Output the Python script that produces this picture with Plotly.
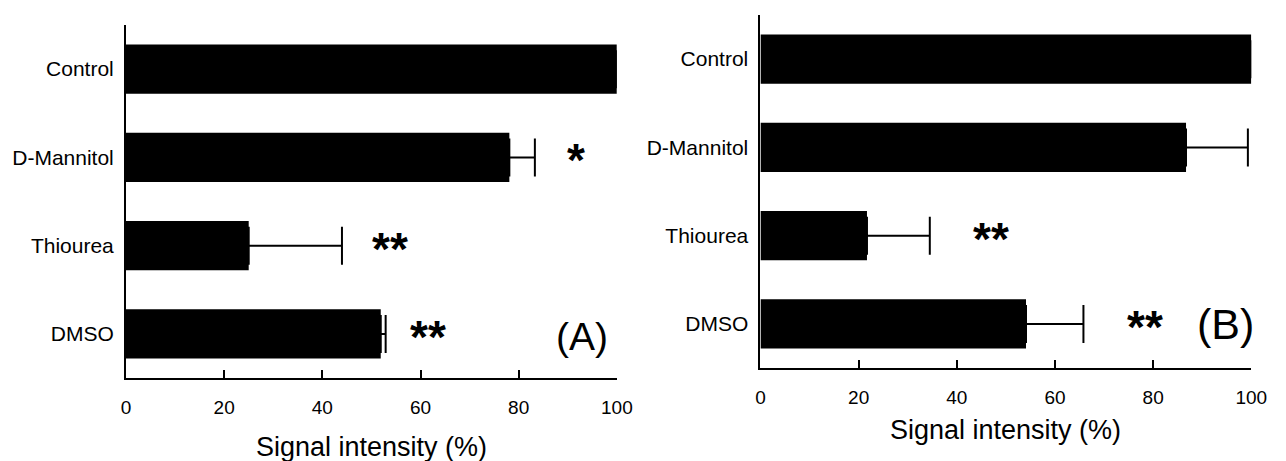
import plotly.graph_objects as go

categories = ["Control", "D-Mannitol", "Thiourea", "DMSO"]
values_a = [100, 78.1, 25.0, 51.9]
errors_a = [0, 5.2, 19.0, 1.0]
values_b = [100, 86.7, 21.7, 54.1]
errors_b = [0, 12.6, 12.8, 11.7]
stars_a = [("*", "D-Mannitol", 91.7), ("**", "Thiourea", 53.7), ("**", "DMSO", 61.5)]
stars_b = [("**", "Thiourea", 46.9), ("**", "DMSO", 78.3)]
x_ticks = [0, 20, 40, 60, 80, 100]
x_title = "Signal intensity (%)"

W, H = 1286, 461
FONT = "Liberation Sans, Arial, Helvetica, sans-serif"

fig = go.Figure()
for vals, errs, xa, ya in [(values_a, errors_a, "x", "y"), (values_b, errors_b, "x2", "y2")]:
    fig.add_trace(go.Bar(
        x=vals, y=categories, orientation="h", xaxis=xa, yaxis=ya,
        marker=dict(color="black", line=dict(width=0)),
        error_x=dict(type="data", array=errs, arrayminus=[0]*len(errs), symmetric=False,
                     color="black", thickness=2, width=19),
        showlegend=False, hoverinfo="skip",
    ))

def px_x(a, b):
    return [a / W, b / W]

def px_y(top, bottom):
    return [1 - bottom / H, 1 - top / H]

axis_common = dict(showline=True, linecolor="black", linewidth=2, showgrid=False, zeroline=False)
xcommon = dict(range=[0, 100], tickvals=x_ticks, ticks="inside", ticklen=8, tickwidth=2,
               tickcolor="black", tickfont=dict(size=19), ticklabelstandoff=11, **axis_common)
ycommon = dict(autorange="reversed", ticks="", tickfont=dict(size=21), ticklabelstandoff=6, **axis_common)
fig.update_layout(
    width=W, height=H, margin=dict(l=0, r=0, t=0, b=0),
    paper_bgcolor="white", plot_bgcolor="white",
    bargap=0.44,
    font=dict(family=FONT, color="black"),
    xaxis=dict(domain=px_x(123, 622), **xcommon),
    yaxis=dict(domain=px_y(25, 378), **ycommon),
    xaxis2=dict(domain=px_x(768, 1267), anchor="y2", **xcommon),
    yaxis2=dict(domain=px_y(15, 368), anchor="x2", **ycommon),
)

ann = []
for text, cat, xv in stars_a:
    ann.append(dict(x=xv, y=cat, xref="x", yref="y", text="<b>" + text + "</b>", showarrow=False,
                    font=dict(size=46), yshift=-3, xanchor="center"))
for text, cat, xv in stars_b:
    ann.append(dict(x=xv, y=cat, xref="x2", yref="y2", text="<b>" + text + "</b>", showarrow=False,
                    font=dict(size=46), yshift=-3, xanchor="center"))
ann.append(dict(x=93, y="DMSO", xref="x", yref="y", text="(A)", showarrow=False, font=dict(size=39),
                yshift=-3, xanchor="center"))
ann.append(dict(x=94.8, y="DMSO", xref="x2", yref="y2", text="(B)", showarrow=False, font=dict(size=43),
                yshift=0, xanchor="center"))
ann.append(dict(x=(123 + 622) / 2 / W, y=1 - 447 / H, xref="paper", yref="paper", text=x_title,
                showarrow=False, font=dict(size=27), xanchor="center", yanchor="middle"))
ann.append(dict(x=(768 + 1267) / 2 / W, y=1 - 430 / H, xref="paper", yref="paper", text=x_title,
                showarrow=False, font=dict(size=27), xanchor="center", yanchor="middle"))
fig.update_layout(annotations=ann)

fig.write_html("out.html", config={"displayModeBar": False},
               post_script="document.body.style.margin='0';document.body.style.overflow='hidden';")
